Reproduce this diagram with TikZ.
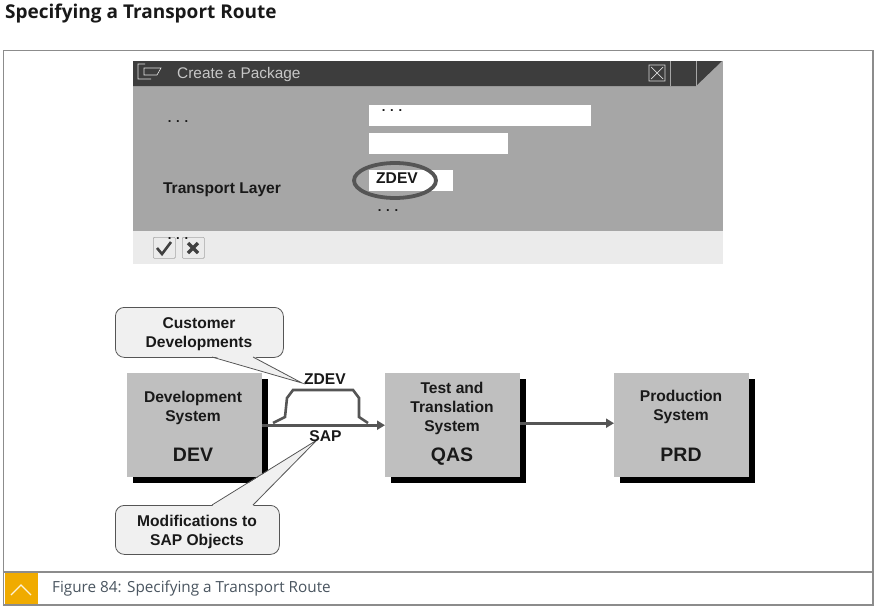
\documentclass[tikz,border=0pt]{standalone}
\usepackage{fontspec}
\setmainfont{Liberation Sans}
\newfontfamily\headfont{Open Sans}
\usetikzlibrary{arrows.meta}
\definecolor{framegray}{HTML}{8C8C8C}
\definecolor{dlgdark}{HTML}{3D3D3D}
\definecolor{dlggray}{HTML}{A6A6A6}
\definecolor{dlglight}{HTML}{EBEBEB}
\definecolor{boxgray}{HTML}{BFBFBF}
\definecolor{callfill}{HTML}{F0F0F0}
\definecolor{routegray}{HTML}{555555}
\definecolor{sapyellow}{HTML}{F0AB00}
\definecolor{captext}{HTML}{4A5560}
\tikzset{
  x=1pt,y=-1pt,
  lbl/.style={font=\fontsize{15.6}{19}\selectfont\bfseries,text=black!90,inner sep=0pt,align=center},
  lblbig/.style={font=\fontsize{19.5}{22}\selectfont\bfseries,text=black!90,inner sep=0pt,anchor=base},
  sysbox/.style={fill=boxgray,minimum width=135pt,minimum height=104pt,inner sep=0pt,anchor=north west},
  shadowbox/.style={fill=black,minimum width=135pt,minimum height=104pt,inner sep=0pt,anchor=north west},
  field/.style={fill=white,inner sep=0pt,anchor=north west},
  calloutbox/.style={draw=routegray,line width=0.8pt,fill=callfill,rounded corners=9pt,inner sep=0pt,anchor=north west},
  calledge/.style={draw=routegray,line width=0.8pt},
  flow/.style={draw=routegray,line width=2.8pt,-{Triangle[length=8pt,width=9pt]}},
  dots/.style={font=\fontsize{13}{15}\selectfont\bfseries,text=black!90,inner sep=0pt},
  btn/.style={draw=black!35,fill=dlglight,line width=0.7pt,rounded corners=1pt,minimum width=22pt,minimum height=21pt,inner sep=0pt,anchor=north west},
}
\begin{document}
\begin{tikzpicture}
\useasboundingbox (0,0) rectangle (877,608);
\fill[white] (0,0) rectangle (877,608);
% heading
\node[anchor=west,inner sep=0pt,font=\headfont\fontsize{19}{22}\selectfont\bfseries,text=black!90] (title) at (5,13.5) {Specifying a Transport Route};
% frame
\draw[framegray,line width=1.2pt] (3.5,50.5) rectangle (873,605);
\draw[framegray,line width=1.2pt] (3.5,572) -- (873,572);
\node[fill=sapyellow,minimum width=33pt,minimum height=31pt,inner sep=0pt,anchor=north west] (tog) at (4.5,573) {};
\draw[white!85!sapyellow,line width=1.2pt] (11,595) -- (21,585) -- (31,595);
\node[anchor=west,inner sep=0pt,font=\headfont\fontsize{15.3}{18}\selectfont,text=captext] (cap) at (52,588) {Figure 84: Specifying a Transport Route};
% dialog
\fill[dlggray] (133,61) rectangle (723,231);
\fill[dlglight] (133,231) rectangle (723,264);
\fill[dlgdark] (133,61) -- (722,61) -- (696,86) -- (133,86) -- cycle;
\draw[black!10,line width=0.6pt] (145,64) -- (138,64) -- (138,79) -- (151,79) (144,68) -- (161,68) -- (157,75) -- (144,75) -- cycle;
\node[anchor=west,inner sep=0pt,font=\fontsize{15.4}{18}\selectfont,text=black!22] (dlgtitle) at (177,75) {Create a Package};
\draw[black!15,line width=0.7pt] (649,65) rectangle (665,81) (651,67) -- (663,79) (663,67) -- (651,79);
\draw[black!35,line width=0.5pt] (670,61) -- (670,86) (696,61) -- (696,86);
\node[field,minimum width=222pt,minimum height=21pt] (f1) at (369,105) {};
\node[field,minimum width=139pt,minimum height=21pt] (f2) at (369,133) {};
\node[field,minimum width=84pt,minimum height=21pt] (f3) at (369,170) {};
\node[lbl] (tl) at (222,190) {Transport Layer};
\node[lbl,anchor=west] (zd) at (376,178) {ZDEV};
\draw[routegray,line width=3.8pt] (395,180.5) ellipse [x radius=41,y radius=17.5];
\node[btn] (ok) at (153,237) {};
\node[btn] (no) at (182,237) {};
\draw[black!75,line width=2.6pt] (157,248) -- (162,254) -- (171,242);
\draw[black!75,line width=3.2pt] (188,243) -- (198,253) (198,243) -- (188,253);
\node[dots] (d1) at (178,122) {. . .};
\node[dots] (d2) at (392,111) {. . .};
\node[dots] (d3) at (388,211) {. . .};
\node[dots] (d4) at (178,239) {. . .};
% systems
\node[shadowbox] (s1) at (133,379) {};
\node[shadowbox] (s2) at (391,379) {};
\node[shadowbox] (s3) at (620,379) {};
\node[sysbox] (dev) at (127,373) {};
\node[sysbox] (qas) at (385,373) {};
\node[sysbox] (prd) at (614,373) {};
\node[lbl] (devt) at (193,407.5) {Development\\System};
\node[lblbig] (devc) at (193,461) {DEV};
\node[lbl] (qast) at (452,408) {Test and\\Translation\\System};
\node[lblbig] (qasc) at (452,461) {QAS};
\node[lbl] (prdt) at (681,406.5) {Production\\System};
\node[lblbig] (prdc) at (681,461) {PRD};
% callouts
\node[calloutbox,minimum width=168pt,minimum height=50pt] (cust) at (115,307) {};
\node[lbl] (custt) at (199,334) {Customer\\Developments};
\node[calloutbox,minimum width=164pt,minimum height=49pt] (mod) at (115,505) {};
\node[lbl] (modt) at (197,532) {Modifications to\\SAP Objects};
\coordinate (tipa) at (302,383);
\coordinate (tipb) at (317,440);
\fill[callfill] (212,356) -- (tipa) -- (253,356) -- cycle;
\draw[calledge] (212,357) -- (tipa) -- (253,357);
% flows
\draw[flow] (dev.east) -- (qas.west);
\draw[flow] ([yshift=2pt]qas.east) -- ([yshift=2pt]prd.west);
\fill[callfill] (212,506) -- (tipb) -- (253,506) -- cycle;
\draw[calledge] (212,505) -- (tipb) -- (253,505);
\draw[routegray,line width=2.6pt] (273,423) -- (285,417) -- (287,398) -- (293,390) -- (353,390) -- (359,398) -- (359,417) -- (368,423);
\node[lbl] (zl) at (325,379.5) {ZDEV};
\node[lbl] (sl) at (325.5,436) {SAP};
\end{tikzpicture}
\end{document}
